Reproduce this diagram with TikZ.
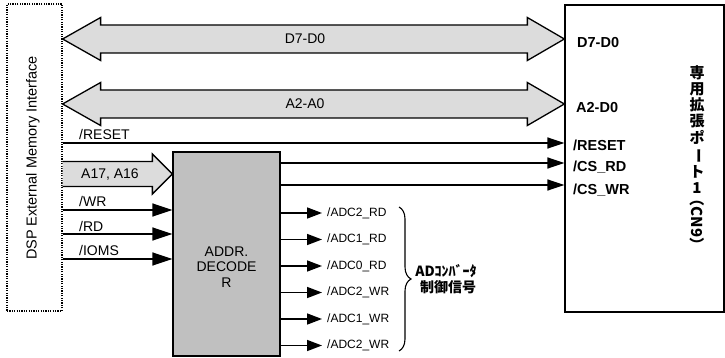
\documentclass[tikz,border=0pt]{standalone}
\usepackage{fontspec}
\setmainfont{Liberation Sans}
\newfontfamily\jp{Noto Sans CJK JP}
\usetikzlibrary{arrows.meta,decorations.pathreplacing,calc}
\definecolor{fatgray}{RGB}{220,220,220}
\definecolor{decgray}{RGB}{192,192,192}
\begin{document}
\begin{tikzpicture}[x=1pt,y=-1pt,
  sig/.style={line width=1.6pt},
  intip/.style={-{Triangle[length=20pt,width=13pt]}},
  porttip/.style={-{Triangle[length=17pt,width=11pt]}},
  outtip/.style={-{Triangle[length=15pt,width=11pt]}},
  fat/.style={fill=fatgray,draw=black,line width=1.3pt,line join=miter},
  lbl/.style={font=\fontsize{14}{16}\selectfont,inner sep=0pt},
  plbl/.style={font=\fontsize{14.5}{16}\selectfont\bfseries,inner sep=0pt,anchor=west},
  adc/.style={font=\fontsize{12}{14}\selectfont,inner sep=0pt,anchor=west},
  jv/.style={font=\jp\bfseries\fontsize{15}{15}\selectfont,inner sep=0pt}]
\useasboundingbox (0,0) rectangle (725,358);
% boxes
\node[draw,line width=1.2pt,dash pattern=on 1.2pt off 1.2pt,minimum width=55pt,minimum height=307pt,inner sep=0pt] (dsp) at (34.5,157.5) {};
\node[lbl,rotate=90,font=\fontsize{14.5}{16}\selectfont] (dsptxt) at (33,158) {DSP External Memory Interface};
\node[draw,line width=1.3pt,minimum width=159pt,minimum height=307pt,inner sep=0pt] (port) at (644.5,158.5) {};
\node[draw,fill=decgray,line width=1.3pt,minimum width=107pt,minimum height=204pt,inner sep=0pt] (dec) at (226.5,254) {};
\node[lbl,align=center,font=\fontsize{14}{15.5}\selectfont] (dectxt) at (226.5,267) {ADDR.\\DECODE\\R};
% y levels
\coordinate (yD) at (0,39);
\coordinate (yA) at (0,104);
\coordinate (yRst) at (0,143);
\coordinate (yA17) at (0,174);
\coordinate (yWR) at (0,210);
\coordinate (yRD) at (0,234);
\coordinate (yIO) at (0,259);
\coordinate (yCR) at (0,163);
\coordinate (yCW) at (0,185);
% fat double arrows
\path[fat] (dsp.east |- yD) -- ++(38,-21.5) -- ++(0,7.5) -- ($(port.west |- yD)+(-37,-14)$) -- ++(0,-7.5) -- (port.west |- yD) -- ++(-37,21.5) -- ++(0,-7.5) -- ($(dsp.east |- yD)+(38,14)$) -- ++(0,7.5) -- cycle;
\node[lbl] (dlbl) at (305,39) {D7-D0};
\path[fat] (dsp.east |- yA) -- ++(38,-21.5) -- ++(0,7.5) -- ($(port.west |- yA)+(-37,-14)$) -- ++(0,-7.5) -- (port.west |- yA) -- ++(-37,21.5) -- ++(0,-7.5) -- ($(dsp.east |- yA)+(38,14)$) -- ++(0,7.5) -- cycle;
\node[lbl] (albl) at (305,104) {A2-A0};
% A17 A16
\path[fat] ($(dsp.east |- yA17)+(0,-12.5)$) -- ($(dec.west |- yA17)+(-20,-12.5)$) -- ++(0,-7.5) -- (dec.west |- yA17) -- ++(-20,20) -- ++(0,-7.5) -- ($(dsp.east |- yA17)+(0,12.5)$);
\node[lbl,anchor=west] (a17lbl) at (81,175) {A17, A16};
% reset
\draw[sig,porttip] (dsp.east |- yRst) -- (port.west |- yRst);
\node[lbl,anchor=west] (rstlbl) at (79,134) {/RESET};
% inputs to decoder
\draw[sig,intip] (dsp.east |- yWR) -- (dec.west |- yWR);
\node[lbl,anchor=west] (wrlbl) at (79,201) {/WR};
\draw[sig,intip] (dsp.east |- yRD) -- (dec.west |- yRD);
\node[lbl,anchor=west] (rdlbl) at (79,226) {/RD};
\draw[sig,intip] (dsp.east |- yIO) -- (dec.west |- yIO);
\node[lbl,anchor=west] (iolbl) at (79,250) {/IOMS};
% decoder to port
\draw[sig,porttip] (dec.east |- yCR) -- (port.west |- yCR);
\draw[sig,porttip] (dec.east |- yCW) -- (port.west |- yCW);
% port labels
\node[plbl] (p1) at (577,43) {D7-D0};
\node[plbl] (p2) at (576,108) {A2-D0};
\node[plbl] (p3) at (573,145) {/RESET};
\node[plbl] (p4) at (573,167) {/CS\_RD};
\node[plbl] (p5) at (573,190) {/CS\_WR};
% outputs
\foreach \y/\t [count=\i] in {213/ADC2\_RD,239.5/ADC1\_RD,266/ADC0\_RD,292.5/ADC2\_WR,319/ADC1\_WR,345.5/ADC2\_WR}{
  \coordinate (o\i) at (322,\y);
  \draw[sig,outtip] (dec.east |- o\i) -- (o\i);
  \node[adc] (ol\i) at (327,\y) {/\t};
}
% brace
\coordinate (bt) at (399,207);
\coordinate (bb) at (399,351);
\draw[line width=1.1pt,decorate,decoration={brace,amplitude=12pt}] (bt) -- (bb);
\node[jv,font=\jp\bfseries\fontsize{14}{14}\selectfont] (adt1) at (446,271) {ADｺﾝﾊﾞｰﾀ};
\node[jv,font=\jp\bfseries\fontsize{14}{14}\selectfont] (adt2) at (448,287) {制御信号};
% vertical japanese
\node[jv] (j1) at (697,73) {専};
\node[jv] (j2) at (697,89) {用};
\node[jv] (j3) at (697,105) {拡};
\node[jv] (j4) at (697,121) {張};
\node[jv] (j5) at (697,137) {ポ};
\node[jv,rotate=-90] (j6) at (697,156) {ー};
\node[jv] (j7) at (697,172) {ト};
\node[jv] (j8) at (697,188) {1};
\node[jv,rotate=-90] (j9) at (697,222) {（CN9）};
\end{tikzpicture}
\end{document}
